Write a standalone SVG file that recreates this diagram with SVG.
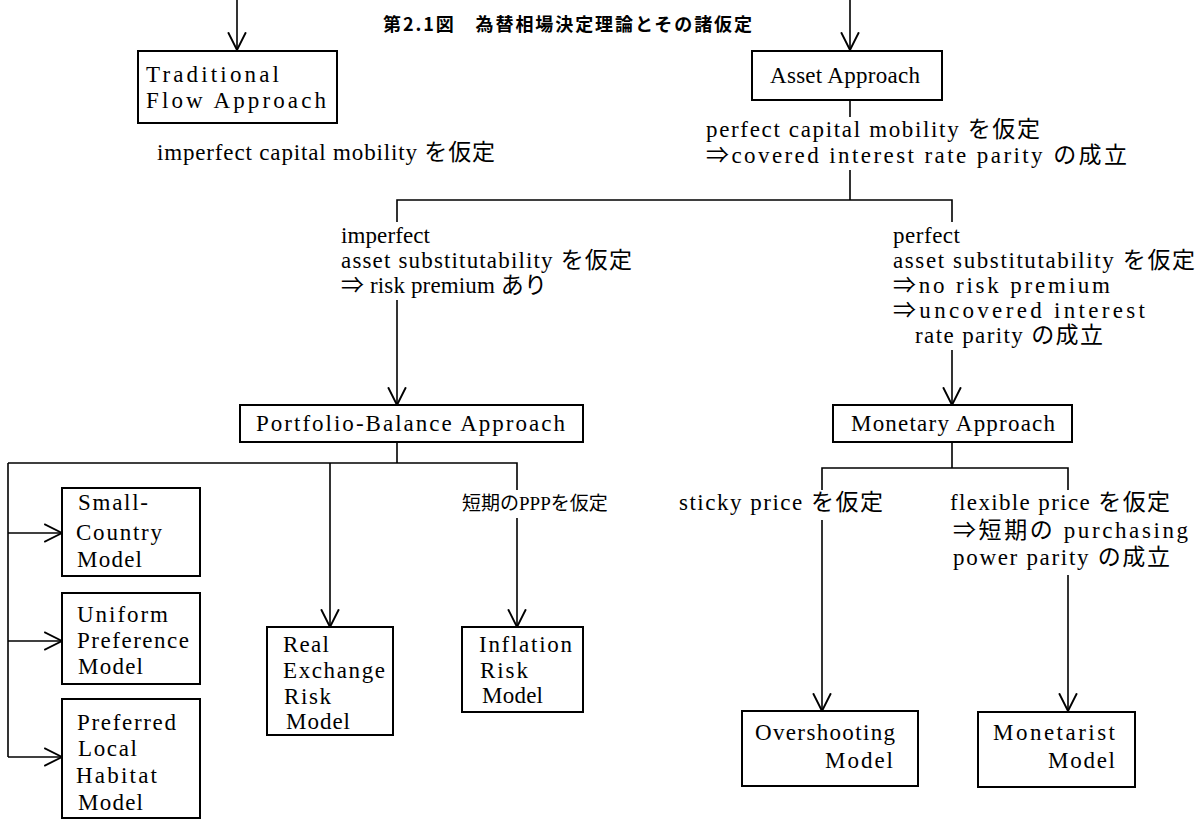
<svg xmlns="http://www.w3.org/2000/svg" width="1203" height="822" viewBox="0 0 1203 822">
<style>
.t{font-family:"Liberation Serif","Noto Sans CJK JP",serif;font-size:23px;fill:#000}
.j{font-family:"Liberation Serif","Noto Sans CJK JP",serif;font-size:19px;fill:#000}
.ttl{font-family:"Noto Sans CJK JP",sans-serif;font-size:18px;font-weight:bold;fill:#000}
.box{fill:#fff;stroke:#000;stroke-width:2}
.ln{fill:none;stroke:#000;stroke-width:1.6}
</style>
<defs>
<marker id="ah" markerUnits="userSpaceOnUse" markerWidth="20" markerHeight="20" refX="16" refY="8" orient="auto" viewBox="0 0 18 16">
<path d="M0,0 L16,8 L0,16" fill="none" stroke="#000" stroke-width="1.7"/>
</marker>
</defs>
<rect width="1203" height="822" fill="#fff"/>
<text class="ttl" x="383" y="31" textLength="369" lengthAdjust="spacing">第2.1図　為替相場決定理論とその諸仮定</text>

<g id="connectors">
<path class="ln" d="M237,0 V50" marker-end="url(#ah)"/>
<path class="ln" d="M850,0 V50" marker-end="url(#ah)"/>
<path class="ln" d="M850,100 V117 M850,170 V200 M397,222 V200 H952 V222"/>
<path class="ln" d="M397,300 V405" marker-end="url(#ah)"/>
<path class="ln" d="M952,350 V405" marker-end="url(#ah)"/>
<path class="ln" d="M397,442 V463 M8,463 H517 V490"/>
<path class="ln" d="M8,463 V757"/>
<path class="ln" d="M8,533 H62" marker-end="url(#ah)"/>
<path class="ln" d="M8,641 H62" marker-end="url(#ah)"/>
<path class="ln" d="M8,757 H62" marker-end="url(#ah)"/>
<path class="ln" d="M330,463 V627" marker-end="url(#ah)"/>
<path class="ln" d="M517,518 V627" marker-end="url(#ah)"/>
<path class="ln" d="M952,442 V468 M822,490 V468 H1068 V490"/>
<path class="ln" d="M822,520 V711" marker-end="url(#ah)"/>
<path class="ln" d="M1068,575 V711" marker-end="url(#ah)"/>
</g>

<g id="traditional">
<rect class="box" x="138" y="51" width="199" height="72"/>
<text class="t" x="146" y="82" textLength="133" lengthAdjust="spacing">Traditional</text>
<text class="t" x="146" y="108" textLength="180" lengthAdjust="spacing">Flow Approach</text>
</g>
<g id="label-imperfect-capital">
<text class="t" x="157" y="160" textLength="338" lengthAdjust="spacing">imperfect capital mobility を仮定</text>
</g>

<g id="asset">
<rect class="box" x="752" y="51" width="190" height="49"/>
<text class="t" x="770" y="83" textLength="150" lengthAdjust="spacing">Asset Approach</text>
</g>
<g id="label-perfect-capital">
<text class="t" x="706" y="137" textLength="334" lengthAdjust="spacing">perfect capital mobility を仮定</text>
<text class="t" x="706" y="163" textLength="421" lengthAdjust="spacing">⇒covered interest rate parity の成立</text>
</g>

<g id="label-imperfect-asset">
<text class="t" x="341" y="243" textLength="89" lengthAdjust="spacing">imperfect</text>
<text class="t" x="341" y="268" textLength="291" lengthAdjust="spacing">asset substitutability を仮定</text>
<text class="t" x="341" y="293" textLength="206" lengthAdjust="spacing">⇒ risk premium あり</text>
</g>
<g id="label-perfect-asset">
<text class="t" x="893" y="243" textLength="67" lengthAdjust="spacing">perfect</text>
<text class="t" x="893" y="268" textLength="302" lengthAdjust="spacing">asset substitutability を仮定</text>
<text class="t" x="893" y="293" textLength="217" lengthAdjust="spacing">⇒no risk premium</text>
<text class="t" x="893" y="318" textLength="252" lengthAdjust="spacing">⇒uncovered interest</text>
<text class="t" x="915" y="343" textLength="188" lengthAdjust="spacing">rate parity の成立</text>
</g>

<g id="portfolio">
<rect class="box" x="240" y="405" width="343" height="37"/>
<text class="t" x="256" y="431" textLength="309" lengthAdjust="spacing">Portfolio-Balance Approach</text>
</g>
<g id="monetary">
<rect class="box" x="833" y="405" width="239" height="37"/>
<text class="t" x="851" y="431" textLength="204" lengthAdjust="spacing">Monetary Approach</text>
</g>

<g id="small-country">
<rect class="box" x="62" y="488" width="138" height="88"/>
<text class="t" x="78" y="510" textLength="70" lengthAdjust="spacing">Small-</text>
<text class="t" x="76" y="540" textLength="86" lengthAdjust="spacing">Country</text>
<text class="t" x="77" y="567" textLength="65" lengthAdjust="spacing">Model</text>
</g>
<g id="uniform">
<rect class="box" x="62" y="593" width="138" height="91"/>
<text class="t" x="77" y="622" textLength="91" lengthAdjust="spacing">Uniform</text>
<text class="t" x="77" y="648" textLength="112" lengthAdjust="spacing">Preference</text>
<text class="t" x="78" y="674" textLength="65" lengthAdjust="spacing">Model</text>
</g>
<g id="preferred">
<rect class="box" x="62" y="699" width="138" height="119"/>
<text class="t" x="77" y="730" textLength="99" lengthAdjust="spacing">Preferred</text>
<text class="t" x="78" y="756" textLength="59" lengthAdjust="spacing">Local</text>
<text class="t" x="76" y="783" textLength="81" lengthAdjust="spacing">Habitat</text>
<text class="t" x="78" y="810" textLength="65" lengthAdjust="spacing">Model</text>
</g>
<g id="real-exchange">
<rect class="box" x="267" y="627" width="126" height="108"/>
<text class="t" x="283" y="652" textLength="46" lengthAdjust="spacing">Real</text>
<text class="t" x="283" y="678" textLength="102" lengthAdjust="spacing">Exchange</text>
<text class="t" x="284" y="704" textLength="47" lengthAdjust="spacing">Risk</text>
<text class="t" x="286" y="729" textLength="64" lengthAdjust="spacing">Model</text>
</g>
<g id="label-ppp">
<text class="j" x="462" y="510">短期のPPPを仮定</text>
</g>
<g id="inflation">
<rect class="box" x="462" y="627" width="121" height="85"/>
<text class="t" x="479" y="652" textLength="93" lengthAdjust="spacing">Inflation</text>
<text class="t" x="480" y="678" textLength="48" lengthAdjust="spacing">Risk</text>
<text class="t" x="482" y="703" textLength="61" lengthAdjust="spacing">Model</text>
</g>

<g id="label-sticky">
<text class="t" x="679" y="510" textLength="204" lengthAdjust="spacing">sticky price を仮定</text>
</g>
<g id="label-flexible">
<text class="t" x="950" y="510" textLength="220" lengthAdjust="spacing">flexible price を仮定</text>
<text class="t" x="953" y="538" textLength="235" lengthAdjust="spacing">⇒短期の purchasing</text>
<text class="t" x="953" y="565" textLength="217" lengthAdjust="spacing">power parity の成立</text>
</g>
<g id="overshooting">
<rect class="box" x="742" y="711" width="176" height="75"/>
<text class="t" x="755" y="740" textLength="140" lengthAdjust="spacing">Overshooting</text>
<text class="t" x="825" y="768" textLength="68" lengthAdjust="spacing">Model</text>
</g>
<g id="monetarist">
<rect class="box" x="978" y="712" width="157" height="75"/>
<text class="t" x="993" y="740" textLength="122" lengthAdjust="spacing">Monetarist</text>
<text class="t" x="1048" y="768" textLength="67" lengthAdjust="spacing">Model</text>
</g>
</svg>
